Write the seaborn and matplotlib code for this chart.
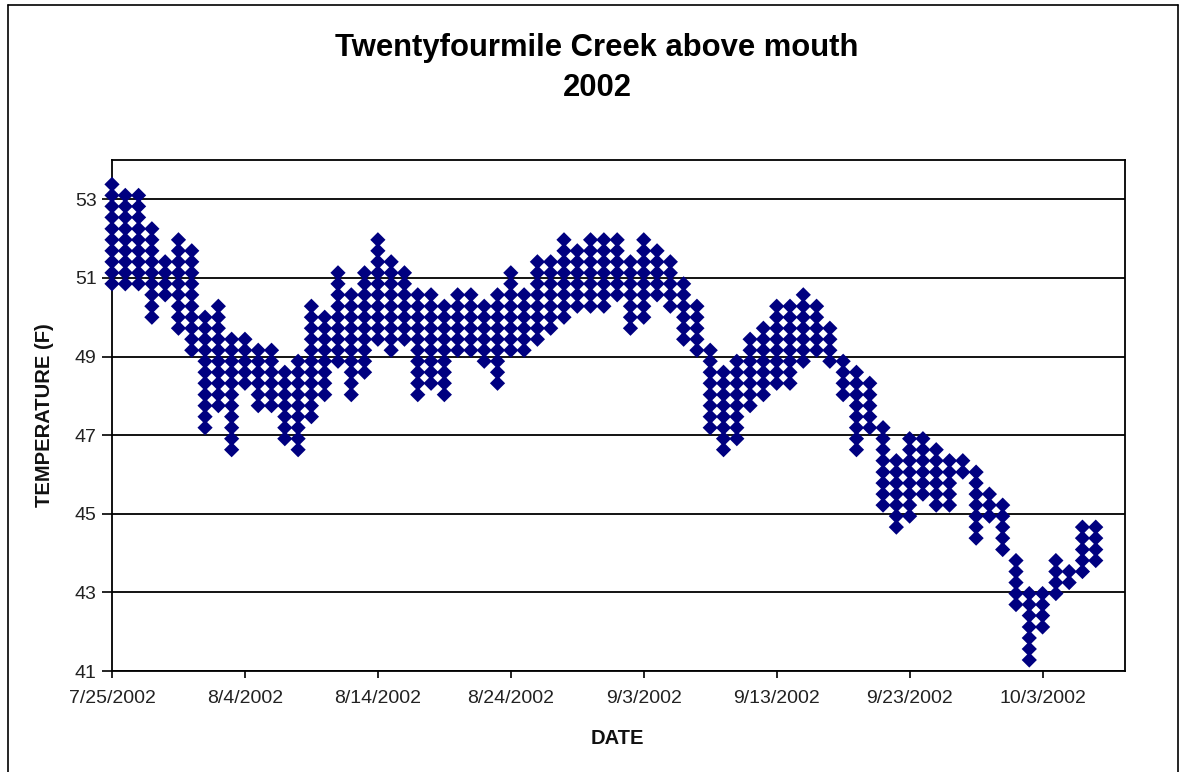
import numpy as np
import pandas as pd
import matplotlib
matplotlib.use("Agg")
import matplotlib.pyplot as plt
from matplotlib.lines import Line2D
import seaborn as sns

TITLE = "Twentyfourmile Creek above mouth"
SUBTITLE = "2002"
X_LABEL = "DATE"
Y_LABEL = "TEMPERATURE (F)"
START_DATE = "2002-07-25"

# quantized temperature levels recorded by the logger (deg F)
LEVELS_F = [41.28, 41.56, 41.84, 42.12, 42.41, 42.69, 42.97, 43.25, 43.53, 43.81,
            44.09, 44.38, 44.66, 44.94, 45.22, 45.50, 45.78, 46.06, 46.35, 46.63,
            46.91, 47.19, 47.47, 47.75, 48.03, 48.32, 48.60, 48.88, 49.16, 49.44,
            49.72, 50.00, 50.28, 50.57, 50.85, 51.13, 51.41, 51.69, 51.97, 52.25,
            52.54, 52.82, 53.10, 53.38]

# lowest / highest level index recorded on each day, 7/25/2002 .. 10/7/2002
DAY_LOW_LEVEL = [34, 34, 34, 31, 33, 30, 28, 21, 23, 19,
                 25, 23, 23, 20, 19, 22, 24, 27, 24, 26,
                 29, 28, 29, 24, 25, 24, 28, 28, 27, 25,
                 28, 28, 29, 30, 31, 32, 32, 32, 33, 30,
                 31, 33, 32, 29, 28, 21, 19, 20, 23, 24,
                 25, 25, 27, 28, 27, 24, 19, 21, 14, 12,
                 13, 15, 14, 14, 17, 11, 13, 10, 5, 0,
                 3, 6, 7, 8, 9]
DAY_HIGH_LEVEL = [43, 42, 42, 39, 36, 38, 37, 31, 32, 29,
                  29, 28, 28, 26, 27, 32, 31, 35, 33, 35,
                  38, 36, 35, 33, 33, 32, 33, 33, 32, 33,
                  35, 33, 36, 36, 38, 37, 38, 38, 38, 36,
                  38, 37, 36, 34, 32, 28, 26, 27, 29, 30,
                  32, 32, 33, 32, 30, 27, 26, 25, 21, 18,
                  20, 20, 19, 18, 18, 17, 15, 14, 9, 6,
                  6, 9, 8, 12, 12]

Y_TICKS = [41, 43, 45, 47, 49, 51, 53]
X_TICK_DATES = ["2002-07-25", "2002-08-04", "2002-08-14", "2002-08-24",
                "2002-09-03", "2002-09-13", "2002-09-23", "2002-10-03"]
X_TICK_LABELS = ["7/25/2002", "8/4/2002", "8/14/2002", "8/24/2002",
                 "9/3/2002", "9/13/2002", "9/23/2002", "10/3/2002"]

# ---- build long table of readings ----
days = pd.date_range(START_DATE, periods=len(DAY_LOW_LEVEL), freq="D")
rows = []
for d, lo, hi in zip(days, DAY_LOW_LEVEL, DAY_HIGH_LEVEL):
    for lv in LEVELS_F[lo:hi + 1]:
        rows.append((d, lv))
df = pd.DataFrame(rows, columns=["date", "temp"])

sns.set_style("white")
plt.rcParams["font.family"] = ["Liberation Sans", "DejaVu Sans"]

W, H = 1185, 772
fig = plt.figure(figsize=(W / 100, H / 100), dpi=100)
fig.patch.set_facecolor("white")

def fx(px):
    return px / W

def fy(py):
    return 1 - py / H

ax = fig.add_axes([fx(112), fy(671), fx(1125) - fx(112), fy(160) - fy(671)])

sns.scatterplot(data=df, x="date", y="temp", marker="D", s=60,
                color="#000080", edgecolor="none", linewidth=0,
                ax=ax, legend=False, zorder=3, clip_on=False)

x0 = pd.Timestamp(START_DATE)
ax.set_xlim(x0, x0 + pd.Timedelta(days=76.2))
ax.set_ylim(41, 54)
ax.set_yticks(Y_TICKS)
ax.set_yticklabels([str(t) for t in Y_TICKS])
ax.set_xticks(pd.to_datetime(X_TICK_DATES))
ax.set_xticklabels(X_TICK_LABELS)

ax.yaxis.grid(True, color="black", linewidth=1.3)
ax.xaxis.grid(False)
ax.set_axisbelow(True)
for sp in ax.spines.values():
    sp.set_visible(True)
    sp.set_color("black")
    sp.set_linewidth(1.3)

ax.tick_params(axis="y", direction="out", length=7, width=1.2, color="black",
               labelsize=14, labelcolor="#222222", pad=4, left=True)
ax.tick_params(axis="x", direction="out", length=5, width=1.2, color="black",
               labelsize=14, labelcolor="#222222", pad=9, bottom=True)
ax.set_xlabel("")
ax.set_ylabel("")

fig.text(fx(45), fy(415), Y_LABEL, rotation=90, ha="center", va="center",
         fontsize=14.5, fontweight="bold", color="#111111")
fig.text(fx(617), fy(738), X_LABEL, ha="center", va="center",
         fontsize=14.5, fontweight="bold", color="#111111")
fig.text(fx(597), fy(48), TITLE, ha="center", va="center",
         fontsize=22.3, fontweight="bold", color="black")
fig.text(fx(597), fy(88), SUBTITLE, ha="center", va="center",
         fontsize=22.3, fontweight="bold", color="black")

# outer chart border
border = [((8, 5), (1178, 5)), ((8, 5), (8, 780)), ((1178, 5), (1178, 780))]
for (a, b) in border:
    fig.add_artist(Line2D([fx(a[0]), fx(b[0])], [fy(a[1]), fy(b[1])],
                          color="black", linewidth=1.2, transform=fig.transFigure))

fig.savefig("out.png", dpi=100, facecolor="white")
